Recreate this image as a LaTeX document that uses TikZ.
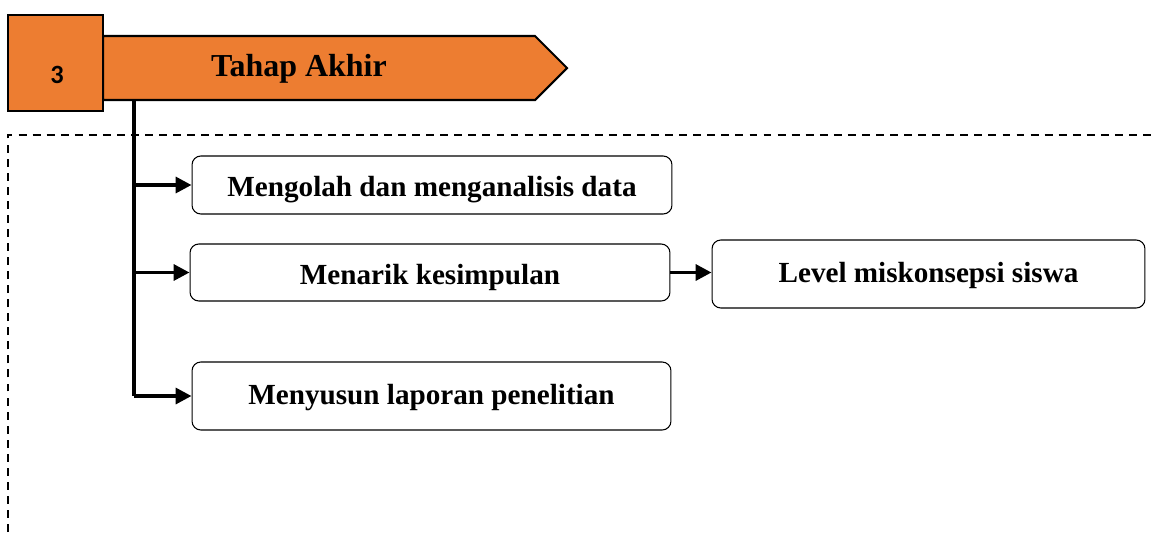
\documentclass[tikz,border=0pt]{standalone}
\usepackage{fontspec}
\setmainfont{Liberation Serif}
\newfontfamily\numfont{Carlito}
\usetikzlibrary{arrows.meta}
\definecolor{oranye}{HTML}{ED7D31}
\tikzset{
	kotak/.style={draw, rounded corners=5pt, line width=0.6pt, text height=12.5pt, text depth=2.3pt, font=\bfseries\fontsize{16.6}{19}\selectfont},
	turun/.style={text height=15pt, text depth=1.4pt},
	panah/.style={line width=2pt, -{Triangle[length=9pt, width=9pt]}},
	batang/.style={line width=1.8pt},
	garis/.style={line width=0.8pt, dash pattern=on 4.5pt off 3.5pt}
}
\begin{document}
\begin{tikzpicture}[x=0.02cm, y=-0.02cm]
	\useasboundingbox (0,0) rectangle (1153,532);
	
	% kerangka putus-putus
	\draw[garis] (8,532) -- (8,135) -- (1153,135);
	
	% judul tahap
	\draw[fill=oranye, line width=1.2pt] (103,36) -- (535,36) -- (567,68) -- (535,100) -- (103,100) -- cycle;
	\node[font=\bfseries\fontsize{18.2}{21}\selectfont] (tahap) at (299,69) {Tahap Akhir};
	\node[draw, fill=oranye, line width=1.2pt, minimum width=1.9cm, minimum height=1.92cm] (nomor) at (55.5,63) {};
	\node[font=\numfont\bfseries\fontsize{15}{17}\selectfont] (angka) at (57,75) {3};
	\coordinate (pangkal) at (134,100);
	
	% kegiatan
	\node[kotak, turun, minimum width=9.6cm, minimum height=1.16cm] (olah) at (432,185) {Mengolah dan menganalisis data};
	\node[kotak, turun, minimum width=9.6cm, minimum height=1.14cm] (tarik) at (430,272.5) {Menarik kesimpulan};
	\node[kotak, minimum width=8.66cm, minimum height=1.36cm] (level) at (928.5,274) {Level miskonsepsi siswa};
	\node[kotak, minimum width=9.58cm, minimum height=1.36cm] (susun) at (431.5,396) {Menyusun laporan penelitian};
	
	\draw[batang] (pangkal) -- (pangkal |- susun.west);
	\draw[panah] (pangkal |- olah.west) -- (olah.west);
	\draw[panah] (pangkal |- tarik.west) -- (tarik.west);
	\draw[panah] (pangkal |- susun.west) -- (susun.west);
	\draw[panah] (tarik.east) -- (tarik.east -| level.west);
\end{tikzpicture}
\end{document}
